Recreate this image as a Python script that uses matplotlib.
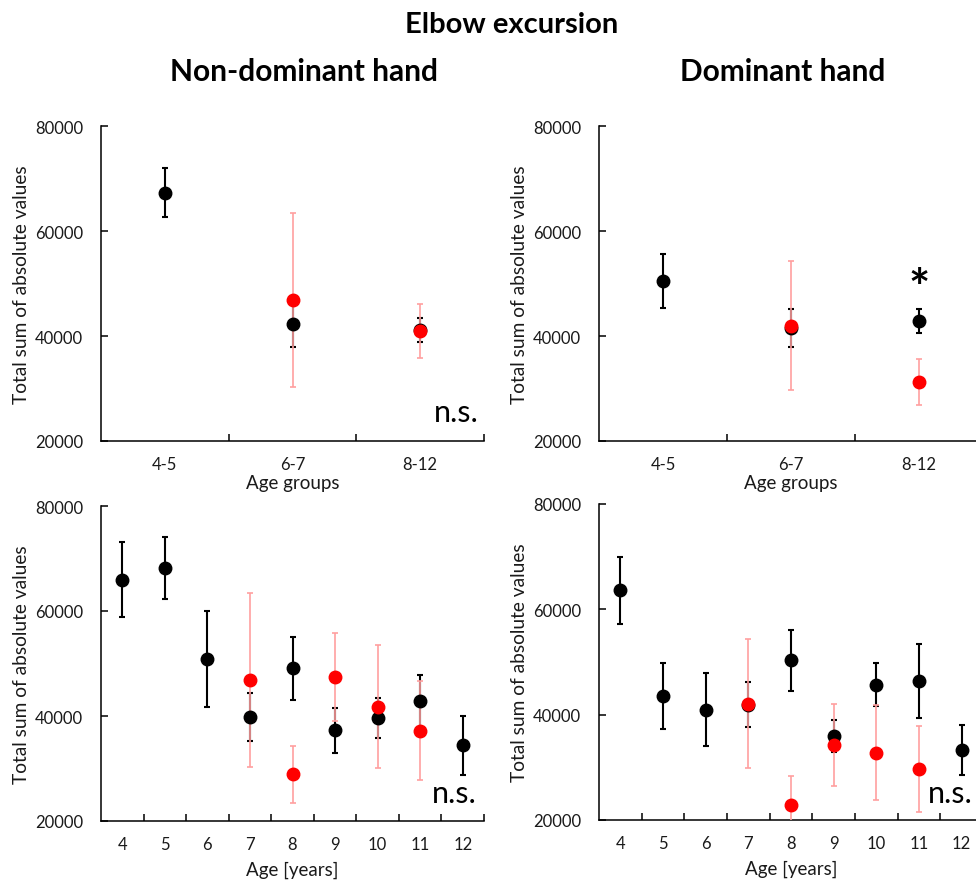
"""Elbow excursion - total sum of absolute values by age, non-dominant vs dominant hand."""
import numpy as np
import matplotlib
matplotlib.use("Agg")
import matplotlib.pyplot as plt
from matplotlib.ticker import FixedLocator

plt.rcParams["font.family"] = ["Lato", "DejaVu Sans"]

NAN = np.nan

# -- age groups (top row) ----------------------------------------------------
GROUPS = ["4-5", "6-7", "8-12"]
nd_grp_black = [67300, 42200, 41200]
nd_grp_black_sd = [4700, 4200, 2250]
nd_grp_red = [NAN, 46800, 41000]
nd_grp_red_sd = [NAN, 16600, 5100]

d_grp_black = [50400, 41600, 42900]
d_grp_black_sd = [5150, 3600, 2250]
d_grp_red = [NAN, 42000, 31200]
d_grp_red_sd = [NAN, 12250, 4350]

# -- single years (bottom row) -----------------------------------------------
AGES = ["4", "5", "6", "7", "8", "9", "10", "11", "12"]
nd_age_black = [66000, 68200, 50900, 39800, 49050, 37250, 39600, 42800, 34400]
nd_age_black_sd = [7130, 5990, 9120, 4625, 6050, 4275, 3740, 5010, 5575]
nd_age_red = [NAN, NAN, NAN, 46800, 28900, 47400, 41800, 37200, NAN]
nd_age_red_sd = [NAN, NAN, NAN, 16600, 5415, 8365, 11660, 9380, NAN]

d_age_black = [63600, 43500, 40900, 41900, 50350, 36000, 45650, 46350, 33350]
d_age_black_sd = [6390, 6265, 6930, 4275, 5790, 3005, 4080, 7055, 4775]
d_age_red = [NAN, NAN, NAN, 42100, 22900, 34300, 32800, 29700, NAN]
d_age_red_sd = [NAN, NAN, NAN, 12185, 5510, 7750, 9020, 8135, NAN]

PINK = "#ff9f9f"
RED = "#ff0000"
TXT = "#1a1a1a"


def draw_panel(ax, labels, bm, bsd, rm, rsd, xlabel, xlabel_y):
    x = np.arange(len(labels))
    ax.errorbar(x, bm, yerr=bsd, fmt="none", ecolor="black", elinewidth=1.5,
                capsize=2.4, capthick=1.5, zorder=2)
    ax.errorbar(x, rm, yerr=rsd, fmt="none", ecolor=PINK, elinewidth=1.2,
                capsize=2.4, capthick=1.2, zorder=3)
    ax.plot(x, bm, "o", color="black", ms=9, zorder=4)
    ax.plot(x, rm, "o", color=RED, ms=9, zorder=5)

    ax.set_xlim(-0.5, len(labels) - 0.5)
    ax.set_ylim(20000, 80000)
    ax.set_yticks([20000, 40000, 60000, 80000])
    ax.set_xticks(x)
    ax.set_xticklabels(labels)
    ax.xaxis.set_minor_locator(FixedLocator(np.arange(len(labels)) + 0.5))
    ax.tick_params(axis="x", which="major", length=0, pad=11,
                   labelsize=12, labelcolor=TXT)
    ax.tick_params(axis="x", which="minor", direction="in", length=5, width=1.1)
    ax.tick_params(axis="y", direction="in", length=5, width=1.1, pad=13,
                   labelsize=12, labelcolor=TXT)

    for side in ("top", "right"):
        ax.spines[side].set_visible(False)
    for side in ("left", "bottom"):
        ax.spines[side].set_linewidth(1.1)

    ax.set_ylabel("Total sum of absolute values", fontsize=13.8, color=TXT)
    ax.yaxis.set_label_coords(-0.185, 0.5)
    ax.set_xlabel(xlabel, fontsize=13.5, color=TXT)
    ax.xaxis.set_label_coords(0.5, xlabel_y)


fig = plt.figure(figsize=(9.76, 8.87), dpi=100)
W, H = 976, 887

def box(left, top, right, bottom):
    return [left / W, 1 - bottom / H, (right - left) / W, (bottom - top) / H]

ax_tl = fig.add_axes(box(101, 127, 484, 442))
ax_tr = fig.add_axes(box(599, 127, 983, 442))
ax_bl = fig.add_axes(box(101, 507, 484, 822))
ax_br = fig.add_axes(box(599, 505, 983, 821))

draw_panel(ax_tl, GROUPS, nd_grp_black, nd_grp_black_sd, nd_grp_red, nd_grp_red_sd,
           "Age groups", -0.105)
draw_panel(ax_tr, GROUPS, d_grp_black, d_grp_black_sd, d_grp_red, d_grp_red_sd,
           "Age groups", -0.105)
draw_panel(ax_bl, AGES, nd_age_black, nd_age_black_sd, nd_age_red, nd_age_red_sd,
           "Age [years]", -0.125)
draw_panel(ax_br, AGES, d_age_black, d_age_black_sd, d_age_red, d_age_red_sd,
           "Age [years]", -0.125)

# significance marks
for ax, xr, yb in ((ax_tl, 0.987, 0.063), (ax_bl, 0.982, 0.06), (ax_br, 0.974, 0.057)):
    ax.text(xr, yb, "n.s.", transform=ax.transAxes, ha="right", va="baseline",
            fontsize=22, color="black")
ax_tr.text(2, 48900, "*", ha="center", va="center", fontsize=36,
           fontweight="bold", color="black")

fig.text(512 / W, 1 - 25 / H, "Elbow excursion", ha="center", va="center",
         fontsize=21, fontweight="bold")
fig.text(304 / W, 1 - 72 / H, "Non-dominant hand", ha="center", va="center",
         fontsize=21.5, fontweight="bold")
fig.text(783 / W, 1 - 72 / H, "Dominant hand", ha="center", va="center",
         fontsize=21.5, fontweight="bold")

fig.savefig("out.png", dpi=100)
